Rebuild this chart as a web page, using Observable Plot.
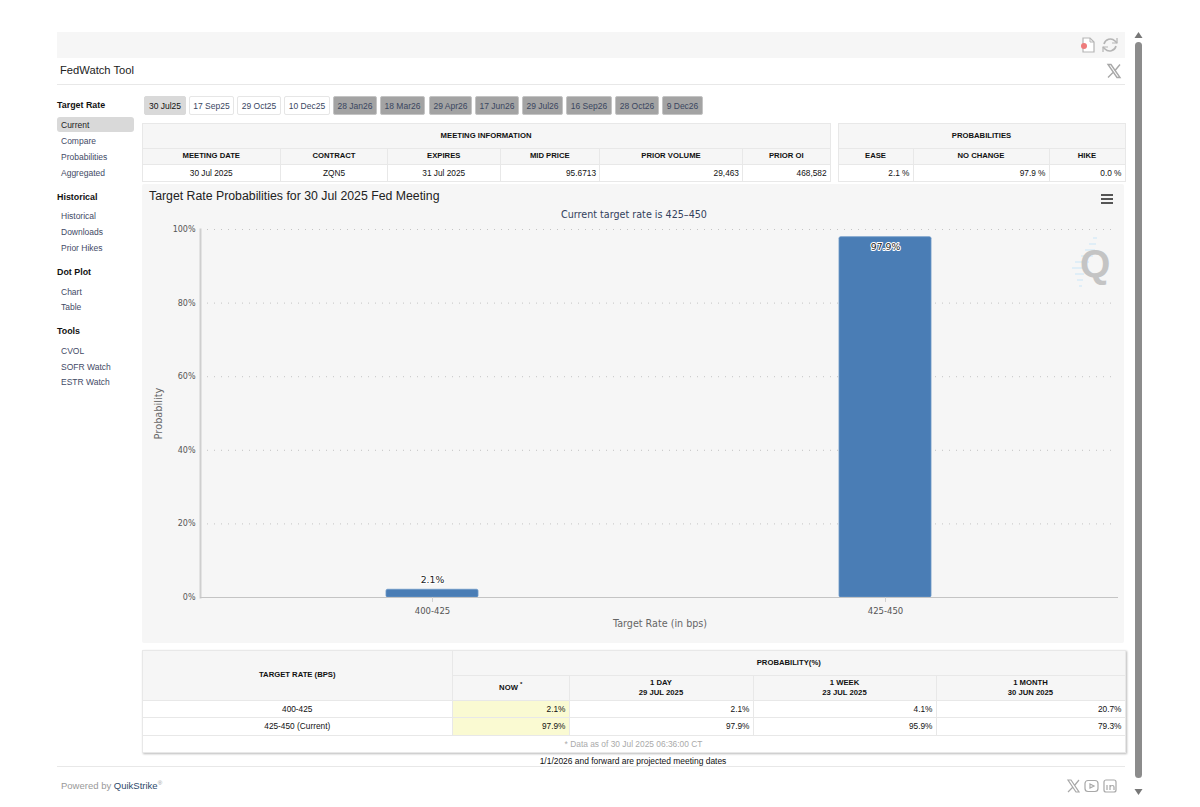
<!DOCTYPE html>
<html><head><meta charset="utf-8">
<script src="https://cdn.jsdelivr.net/npm/d3@7"></script>
<script src="https://cdn.jsdelivr.net/npm/@observablehq/plot@0.6"></script>
<style>
html,body{margin:0;padding:0;background:#fff;width:1200px;height:807px;overflow:hidden;font-family:Arial,"Liberation Sans",sans-serif;color:#111}
.a{position:absolute;white-space:nowrap}
.hr{position:absolute;background:#e8e8e8;height:1px}
.side-h{position:absolute;left:57px;font-size:8.9px;font-weight:bold;color:#111;line-height:12px}
.side-i{position:absolute;left:61px;font-size:8.5px;color:#3f4a66;line-height:12px}
.pill{position:absolute;left:57px;top:117px;width:77px;height:15px;background:#d9d9d9;border-radius:3px}
.tab{position:absolute;top:96px;height:19px;line-height:19px;text-align:center;font-size:8.5px;box-sizing:border-box;border-radius:2px;border:1px solid #e6e6e6;background:#fff;color:#39465f}
.tab.on{background:#d9d9d9;border-color:#d9d9d9;color:#111}
.tab.off{background:#a3a3a3;border-color:#c4c4c4;color:#3a4660}
table{position:absolute;border-collapse:collapse;table-layout:fixed;font-size:8.300px;color:#111}
td,th{border:1px solid #e8e8e8;padding:0 3px;overflow:hidden;white-space:nowrap}
th{background:#f6f6f6;font-size:7.700px;font-weight:bold;text-align:center;line-height:10px}
td{background:#fff;text-align:right;line-height:10px}
td.c{text-align:center}
td.now{background:#fafad2}
td.note{text-align:center;color:#aaa;font-size:8.400px}
#panel{position:absolute;left:142px;top:184px;width:982px;height:459px;background:#f6f6f6;border-radius:2px}
#chart svg{display:block;background:transparent}
</style></head><body>
<div class="a" style="left:57px;top:32px;width:1068px;height:26px;background:#f6f6f6"></div>
<svg class="a" style="left:1080px;top:36px" width="40" height="18" viewBox="0 0 40 18">
 <path d="M3 2h7l4 4v10H3z" fill="#fff" stroke="#b5b5b5" stroke-width="1.2"/><path d="M10 2v4h4" fill="none" stroke="#b5b5b5"/><circle cx="4" cy="10" r="3" fill="#ee7b7b"/>
 <path d="M24 8a6.500 6.500 0 0 1 11-3l2 2M36 10a6.500 6.500 0 0 1-11 3l-2-2" fill="none" stroke="#b5b5b5" stroke-width="1.600"/><path d="M37 2v5h-5M23 16v-5h5" fill="none" stroke="#b5b5b5" stroke-width="1.200"/>
</svg>
<div class="a" style="left:60px;top:63px;font-size:11.200px;line-height:14px;color:#222">FedWatch Tool</div>
<svg class="a" style="left:1106px;top:63px" width="16" height="16" viewBox="0 0 16 16" fill="none" stroke="#a8a8a8"><path d="M2 1.500h3l9 13h-3z" stroke-width="1.400"/><path d="M14 1.500L9 7.500M7 9.500L2 14.500" stroke-width="1.400"/></svg>
<div class="hr" style="left:57px;top:84px;width:1068px"></div>
<div class="pill"></div>
<div id="side"></div><div id="tabs"></div>
<div id="top"></div>
<div id="panel">
 <div id="chart"></div>
 <div class="a" style="left:7px;top:4px;font-size:12.300px;line-height:16px;color:#222">Target Rate Probabilities for 30 Jul 2025 Fed Meeting</div>
 <div class="a" style="left:0;width:984px;top:25px;text-align:center;font-family:'DejaVu Sans';font-size:9.600px;line-height:12px;color:#33415c">Current target rate is 425–450</div>
 <svg class="a" style="left:958px;top:9px" width="14" height="12"><path d="M1 2h12M1 6h12M1 10h12" stroke="#555" stroke-width="2"/></svg>
 <svg class="a" style="left:925px;top:50px" width="50" height="58"><path d="M26 4h4M22 10h7M18 16h10M14 22h12M8 28h14M5 34h12M8 40h9M10 46h6M12 52h3" stroke="#d9ebf8" stroke-width="1.500"/></svg>
 <div class="a" style="left:938px;top:58px;font-size:39px;line-height:44px;font-weight:bold;color:#c4c4c4">Q</div>
</div>
<div id="bottom"></div>
<div class="a" style="left:142px;width:982px;top:756px;text-align:center;font-size:8.450px;line-height:10px;color:#111">1/1/2026 and forward are projected meeting dates</div>
<div class="hr" style="left:57px;top:766px;width:1068px"></div>
<div class="a" style="left:61px;top:780px;font-size:9.500px;line-height:12px;color:#999">Powered by <span style="color:#2f4a6b">QuikStrike</span><sup style="font-size:6px;line-height:0">®</sup></div>
<svg class="a" style="left:1066px;top:778px" width="54" height="16" viewBox="0 0 54 16" fill="none" stroke="#a8a8a8" stroke-width="1.200">
 <path d="M2 2h3l8 12h-3zM13 2L8.500 7.500M6.500 9.500L2 14"/><rect x="19" y="2.500" width="13" height="11" rx="3"/><path d="M24 6l4 2-4 2z"/><rect x="38" y="2" width="12" height="12" rx="2"/><path d="M41 7v5M44 12V7M44 9c1-2 4-2 4 0v3"/>
</svg>
<!-- scrollbar -->
<div class="a" style="left:1135px;top:42px;width:7px;height:736px;background:#8c8c8c;border-radius:4px"></div>
<svg class="a" style="left:1133px;top:31px" width="11" height="8"><path d="M5.500 1l4 6h-8z" fill="#777"/></svg>
<svg class="a" style="left:1133px;top:788px" width="11" height="8"><path d="M5.500 7l4-6h-8z" fill="#777"/></svg>

<script>
// ---------- data ----------
const targetRates = ["400-425", "425-450"];
const tickLabels = ["400-425", "425-450"];
const probNow = [2.1, 97.9];
const prob1Day = [2.1, 97.9];
const prob1Week = [4.1, 95.9];
const prob1Month = [20.7, 79.3];
const yTicks = [0, 20, 40, 60, 80, 100];
const meetingHeaders = ["MEETING DATE","CONTRACT","EXPIRES","MID PRICE","PRIOR VOLUME","PRIOR OI"];
const meetingValues = ["30 Jul 2025","ZQN5","31 Jul 2025","95.6713","29,463","468,582"];
const probHeaders = ["EASE","NO CHANGE","HIKE"];
const probValues = ["2.1 %","97.9 %","0.0 %"];
const tabLabels = ["30 Jul25","17 Sep25","29 Oct25","10 Dec25","28 Jan26","18 Mar26","29 Apr26","17 Jun26","29 Jul26","16 Sep26","28 Oct26","9 Dec26"];
const tabEdges = [[144,186],[189,234],[237,281],[284,330],[333,377],[380,425],[429,472],[475,519],[522,563],[566,612],[615,659],[662,703]];
const sideItems = [["h","Target Rate",99],["i","Current",119],["i","Compare",135],["i","Probabilities",151],["i","Aggregated",167],
  ["h","Historical",191],["i","Historical",210],["i","Downloads",226],["i","Prior Hikes",242],
  ["h","Dot Plot",266],["i","Chart",286],["i","Table",301],["h","Tools",325],["i","CVOL",345],["i","SOFR Watch",361],["i","ESTR Watch",376]];

// ---------- page furniture ----------
document.getElementById("side").innerHTML = sideItems.map(([k,t,y]) =>
  `<div class="${k==="h"?"side-h":"side-i"}" style="top:${y}px${t==="Current"?";color:#222":""}">${t}</div>`).join("");
document.getElementById("tabs").innerHTML = tabLabels.map((t,i) =>
  `<div class="tab ${i===0?"on":i>3?"off":""}" style="left:${tabEdges[i][0]}px;width:${tabEdges[i][1]-tabEdges[i][0]}px">${t}</div>`).join("");

const cols = w => `<colgroup>${w.map(x=>`<col style="width:${x}px">`).join("")}</colgroup>`;
const rightCols = new Set(["95.6713","29,463","468,582"]);
document.getElementById("top").innerHTML = `
<table style="left:141.500px;top:122.500px;width:688px">${cols([138.5,107,112.5,99.5,143,87.5])}
 <tr style="height:25px"><th colspan="6">MEETING INFORMATION</th></tr>
 <tr style="height:16px">${meetingHeaders.map(h=>`<th>${h}</th>`).join("")}</tr>
 <tr style="height:17px">${meetingValues.map(v=>`<td class="${rightCols.has(v)?"":"c"}">${v}</td>`).join("")}</tr>
</table>
<table style="left:837.500px;top:122.500px;width:287px">${cols([75,136,76])}
 <tr style="height:25px"><th colspan="3">PROBABILITIES</th></tr>
 <tr style="height:16px">${probHeaders.map(h=>`<th>${h}</th>`).join("")}</tr>
 <tr style="height:17px">${probValues.map(v=>`<td>${v}</td>`).join("")}</tr>
</table>`;

const pct = v => v.toFixed(1) + "%";
document.getElementById("bottom").innerHTML = `
<table style="left:141.500px;top:649.500px;width:983px;box-shadow:1px 1px 2px #bbb">${cols([310.5,116.5,184,183,189])}
 <tr style="height:25px"><th rowspan="2">TARGET RATE (BPS)</th><th colspan="4">PROBABILITY(%)</th></tr>
 <tr style="height:25px"><th>NOW <sup style="font-size:6px;line-height:0">*</sup></th><th>1 DAY<br>29 JUL 2025</th><th>1 WEEK<br>23 JUL 2025</th><th>1 MONTH<br>30 JUN 2025</th></tr>
 ${targetRates.map((r,i)=>`<tr style="height:${i?18:17}px"><td class="c">${r}${i===1?" (Current)":""}</td><td class="now">${pct(probNow[i])}</td><td>${pct(prob1Day[i])}</td><td>${pct(prob1Week[i])}</td><td>${pct(prob1Month[i])}</td></tr>`).join("")}
 <tr style="height:17px"><td class="note" colspan="5">* Data as of 30 Jul 2025 06:36:00 CT</td></tr>
</table>`;

// ---------- chart ----------
const rows = tickLabels.map((rate,i) => ({rate, p: probNow[i]}));
const chartFont = "'DejaVu Sans', sans-serif";
const plot = Plot.plot({
  width: 982, height: 459,
  marginLeft: 58, marginRight: 7, marginTop: 45, marginBottom: 46,
  style: {fontFamily: chartFont, background: "transparent", overflow: "visible"},
  x: {domain: tickLabels, range: [63.25, 970.25], paddingInner: 0.797, paddingOuter: 0.3985, align: 0.5, label: null},
  y: {domain: [0, 100], label: null},
  marks: [
    Plot.ruleY(yTicks.filter(d => d > 0), {stroke: "#c4c4c4", strokeWidth: 1, strokeDasharray: "1,6"}),
    Plot.barY(rows, {x: "rate", y: "p", fill: "#4a7db5", stroke: "#6b97c6", strokeWidth: 0.8, rx: 1.5}),
    Plot.frame({anchor: "left", stroke: "#cfcfcf", strokeWidth: 2}),
    Plot.frame({anchor: "bottom", stroke: "#c4c4c4", strokeWidth: 1}),
    Plot.text(rows.filter(d => d.p < 50), {x: "rate", y: "p", text: d => d.p + "%", dy: -10, fontSize: 9.3, fill: "#222", stroke: "#fff", strokeWidth: 2}),
    Plot.text(rows.filter(d => d.p >= 50), {x: "rate", y: "p", text: d => d.p + "%", dy: 10, fontSize: 9.3, fill: "#222", stroke: "#fff", strokeWidth: 2}),
    Plot.axisY({ticks: yTicks, tickFormat: d => d + "%", tickSize: 0, tickPadding: 5, fontSize: 8, fill: "#555", label: null, marginLeft: 58}),
    Plot.axisX({tickSize: 5, stroke: "#d0d0d0", tickPadding: 5, fontSize: 8.5, fill: "#555", label: null, tickFormat: d => d}),
    Plot.text(["Target Rate (in bps)"], {frameAnchor: "bottom", dy: 29, dx: 1, fontSize: 9.6, fill: "#666"}),
    Plot.text(["Probability"], {frameAnchor: "left", textAnchor: "middle", rotate: -90, dx: -42, fontSize: 9.8, fill: "#666"})
  ]
});
document.getElementById("chart").appendChild(plot);
</script>
</body></html>
